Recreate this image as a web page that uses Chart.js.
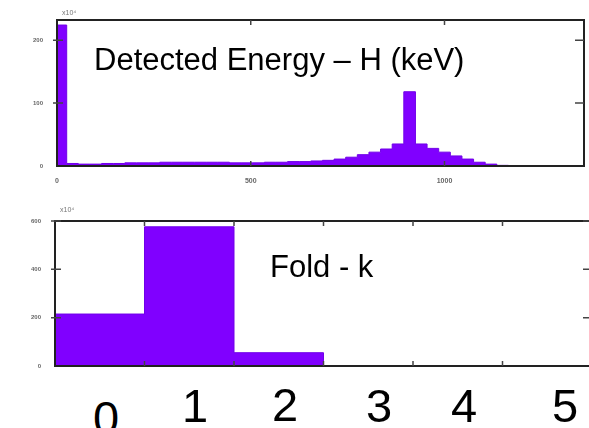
<!DOCTYPE html>
<html>
<head>
<meta charset="utf-8">
<script src="https://cdn.jsdelivr.net/npm/chart.js@4/dist/chart.umd.min.js"></script>
<style>
  html, body { margin: 0; padding: 0; background: #fff; overflow: hidden; }
  body { width: 589px; height: 428px; position: relative; font-family: 'Liberation Sans', Arial, sans-serif; }
  canvas { position: absolute; left: 0; }
  #energyChart { top: 0; }
  #foldChart { top: 190px; }
  .note { position: absolute; line-height: 1; color: #000; white-space: nowrap; font-size: 31px; }
  .digit { position: absolute; width: 60px; text-align: center; line-height: 1; font-size: 47px; color: #000; }
  .mult { position: absolute; font-size: 7px; color: #777; line-height: 1; }
</style>
</head>
<body>
<canvas id="energyChart" width="589" height="190"></canvas>
<canvas id="foldChart" width="600" height="190"></canvas>

<div class="mult" style="left:62px; top:9px;">x10⁴</div>
<div class="mult" style="left:60px; top:206px;">x10⁴</div>
<div class="note" style="left:94px; top:44px;">Detected Energy – H (keV)</div>
<div class="note" style="left:270px; top:251px;">Fold - k</div>
<div id="foldLabels"></div>

<script>
// energy histogram (bin edges in keV, counts per bin)
const energyEdges = [0, 25, 55, 85, 115, 145, 175, 205, 235, 265, 295, 325, 355, 385, 415, 445,
  475, 505, 535, 565, 595, 625, 655, 685, 715, 745, 775, 805, 835, 865, 895, 925, 955, 985,
  1015, 1045, 1075, 1105, 1135, 1165, 1195, 1225, 1255, 1285, 1315, 1345];
const energyCounts = [224, 4, 3, 3, 4, 4, 5, 5, 5, 6, 6, 6, 6, 6, 6, 5,
  5, 5, 6, 6, 7, 7, 8, 9, 11, 14, 18, 22, 27, 35, 118, 35, 28,
  22, 16, 11, 6, 3, 1, 0, 0, 0, 0, 0, 0];
const energyTicks = [0, 500, 1000];
const energyYTicks = [0, 100, 200];

// fold histogram
const foldEdges = [0, 1, 2, 3, 4, 5, 6];
const foldCounts = [215, 576, 55, 0, 0, 0];
const foldYTicks = [0, 200, 400, 600];
const foldLabels = ['0', '1', '2', '3', '4', '5'];

const PURPLE = '#8000ff';
const FRAME = '#222';

function stepPoints(edges, counts) {
  return edges.map((x, i) => ({ x, y: i < counts.length ? counts[i] : 0 }));
}

// box around the plot with small inward ticks, like the original figure
const framePlugin = {
  id: 'frame',
  afterDatasetsDraw(chart) {
    const { ctx, chartArea: a, scales } = chart;
    ctx.save();
    ctx.strokeStyle = FRAME;
    ctx.lineWidth = 2;
    ctx.strokeRect(a.left, a.top, a.right - a.left, a.bottom - a.top);
    ctx.lineWidth = 1.5;
    ctx.strokeStyle = '#444';
    ctx.beginPath();
    scales.x.ticks.forEach((t) => {
      const px = scales.x.getPixelForValue(t.value);
      if (px <= a.left + 2 || px >= a.right - 2) return;
      ctx.moveTo(px, a.bottom);
      ctx.lineTo(px, a.bottom - 5);
      ctx.moveTo(px, a.top);
      ctx.lineTo(px, a.top + 5);
    });
    scales.y.ticks.forEach((t) => {
      const py = scales.y.getPixelForValue(t.value);
      if (py >= a.bottom - 2) return;
      ctx.moveTo(a.left - 4, py);
      ctx.lineTo(a.left + 6, py);
      ctx.moveTo(a.right, py);
      ctx.lineTo(a.right - 9, py);
    });
    ctx.stroke();
    ctx.restore();
  },
};

function histChart(id, edges, counts, opts) {
  return new Chart(document.getElementById(id), {
    type: 'line',
    data: {
      datasets: [{
        data: stepPoints(edges, counts),
        stepped: true,
        fill: 'origin',
        backgroundColor: PURPLE,
        borderColor: '#7000e8',
        borderWidth: 1,
        pointRadius: 0,
      }],
    },
    options: {
      responsive: false,
      animation: false,
      devicePixelRatio: 1,
      layout: { padding: opts.padding },
      plugins: { legend: { display: false }, tooltip: { enabled: false } },
      scales: {
        x: {
          type: 'linear',
          min: opts.xMin,
          max: opts.xMax,
          afterBuildTicks(scale) { scale.ticks = opts.xTicks.map((v) => ({ value: v })); },
          afterFit(scale) { scale.height = opts.xHeight; },
          ticks: {
            display: opts.showXLabels,
            callback: (v) => String(v),
            font: { size: 7, weight: 'bold', family: 'Liberation Sans' },
            color: '#666',
            padding: 3,
            maxRotation: 0,
          },
          grid: { display: false },
          border: { display: true, color: FRAME, width: 2 },
        },
        y: {
          min: 0,
          max: opts.yMax,
          afterBuildTicks(scale) { scale.ticks = opts.yTicks.map((v) => ({ value: v })); },
          afterFit(scale) { scale.width = opts.yWidth; },
          ticks: {
            callback: (v) => String(v),
            font: { size: 6, weight: 'bold', family: 'Liberation Sans' },
            color: '#666',
            padding: 6,
          },
          grid: { display: false },
          border: { display: true, color: FRAME, width: 2 },
        },
      },
    },
    plugins: [framePlugin],
  });
}

histChart('energyChart', energyEdges, energyCounts, {
  padding: { top: 20, right: 5, left: 0, bottom: 0 },
  xMin: 0, xMax: 1360, xTicks: energyTicks, xHeight: 24, showXLabels: true,
  yMax: 232, yTicks: energyYTicks, yWidth: 57,
});

histChart('foldChart', foldEdges, foldCounts, {
  padding: { top: 31, right: 8, left: 0, bottom: 0 },
  xMin: 0, xMax: 6, xTicks: foldEdges, xHeight: 14, showXLabels: false,
  yMax: 600, yTicks: foldYTicks, yWidth: 55,
});

// large fold numbers written under the lower panel
const labelCenters = [106, 195, 285, 379, 464, 565];
const labelTops = [394, 382, 381, 382, 382, 382];
const holder = document.getElementById('foldLabels');
foldLabels.forEach((txt, i) => {
  const d = document.createElement('div');
  d.className = 'digit';
  d.textContent = txt;
  d.style.left = (labelCenters[i] - 30) + 'px';
  d.style.top = labelTops[i] + 'px';
  holder.appendChild(d);
});
</script>
</body>
</html>
